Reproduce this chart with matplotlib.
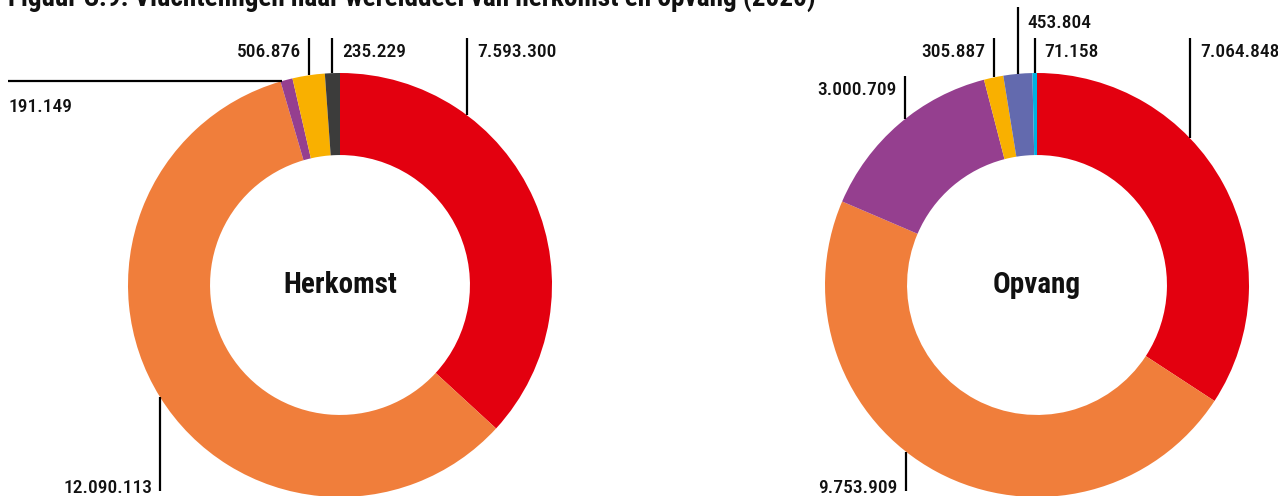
import numpy as np
import matplotlib
matplotlib.use("Agg")
import matplotlib.pyplot as plt
from matplotlib import font_manager

# data
herkomst_values = [7593300, 12090113, 191149, 506876, 235229]
herkomst_labels = ["7.593.300", "12.090.113", "191.149", "506.876", "235.229"]
herkomst_colors = ["#E3000F", "#F07E3B", "#953F8F", "#F9B000", "#3C3C3B"]

opvang_values = [7064848, 9753909, 3000709, 305887, 453804, 71158]
opvang_labels = ["7.064.848", "9.753.909", "3.000.709", "305.887", "453.804", "71.158"]
opvang_colors = ["#E3000F", "#F07E3B", "#953F8F", "#F9B000", "#636AAE", "#00B1E1"]

title = "Figuur C.9: Vluchtelingen naar werelddeel van herkomst en opvang (2020)"

names = set(font_manager.get_font_names())
font = "DejaVu Sans"
for cand in ["Roboto Condensed", "Barlow Semi Condensed", "Archivo Narrow"]:
    if cand in names:
        font = cand
        break
plt.rcParams["font.family"] = [font, "DejaVu Sans"]

W, H = 1278, 496
fig = plt.figure(figsize=(W / 100, H / 100), dpi=100)
ax = fig.add_axes([0, 0, 1, 1])

R = 212
ring = 0.387
lab_size = 14


def donut(cx, cy, values, colors, labels, layout, name):
    ax.pie(values, colors=colors, startangle=90, counterclock=False,
           center=(cx, cy), radius=R,
           wedgeprops=dict(width=R * ring, linewidth=0))
    ax.text(cx, cy, name, ha="center", va="center", fontsize=21,
            fontweight="bold", color="#111111")
    total = float(sum(values))
    start = 0.0
    for v, lab, lay in zip(values, labels, layout):
        frac = v / total
        ang, kind, end, side, base = lay
        if ang is None:
            ang = (start + frac / 2) * 360
        start += frac
        t = np.radians(ang)
        px = cx + R * np.sin(t)
        py = cy + R * np.cos(t)
        ey = H - end
        by = H - base
        if kind == "h":
            ax.plot([end, px], [py, py], color="black", lw=1.6,
                    solid_capstyle="butt", clip_on=False)
            ax.text(end + 1, by, lab, ha="left", va="baseline",
                    fontsize=lab_size, fontweight="medium", color="#111111")
            continue
        ax.plot([px, px], [py, ey], color="black", lw=1.6,
                solid_capstyle="butt", clip_on=False)
        if side == "r":
            ax.text(px + 10, by, lab, ha="left", va="baseline",
                    fontsize=lab_size, fontweight="medium", color="#111111")
        else:
            ax.text(px - 8, by, lab, ha="right", va="baseline",
                    fontsize=lab_size, fontweight="medium", color="#111111")


# (angle clockwise from top or None for wedge middle, kind, line end px, text side, text baseline px)
herkomst_layout = [
    (36.8, "v", 38, "r", 57),
    (238.0, "v", 491, "l", 493),
    (344.0, "h", 8, "l", 112),
    (None, "v", 38, "l", 57),
    (None, "v", 38, "r", 57),
]
opvang_layout = [
    (46.2, "v", 38, "r", 57),
    (218.2, "v", 491, "l", 493),
    (321.5, "v", 76, "l", 95),
    (None, "v", 38, "l", 57),
    (None, "v", 7, "r", 28),
    (None, "v", 38, "r", 57),
]

donut(340, H - 285, herkomst_values, herkomst_colors, herkomst_labels,
      herkomst_layout, "Herkomst")
donut(1037, H - 285, opvang_values, opvang_colors, opvang_labels,
      opvang_layout, "Opvang")

ax.text(8, H - 7, title, ha="left", va="baseline", fontsize=19.6,
        fontweight="bold", color="#111111")

ax.set_xlim(0, W)
ax.set_ylim(0, H)
ax.set_aspect("auto")
ax.axis("off")

fig.savefig("out.png", dpi=100)
